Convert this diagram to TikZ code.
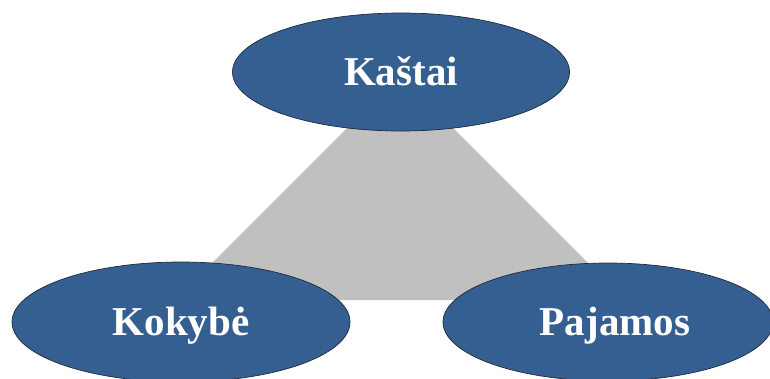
\documentclass[tikz,border=0pt]{standalone}
\usepackage{fontspec}
\setmainfont{Liberation Serif}
\usetikzlibrary{shapes.geometric}
\definecolor{ovalblue}{HTML}{365F91}
\definecolor{ovaledge}{HTML}{1F2A3A}
\definecolor{trigray}{HTML}{C0C0C0}
\tikzset{
  oval/.style={ellipse, draw=ovaledge, line width=0.7pt, fill=ovalblue, inner sep=0pt,
    text=white, font=\fontsize{41}{41}\selectfont\bfseries, text height=27pt, text depth=0pt},
}
\begin{document}
\begin{tikzpicture}[x=1pt,y=-1pt]
\useasboundingbox (0,0) rectangle (770,378);
\coordinate (apex) at (400,75);
\coordinate (bl) at (175,300);
\coordinate (br) at (625,300);
\fill[trigray] (apex) -- (bl) -- (br) -- cycle;
\node[oval, minimum width=337pt, minimum height=118pt] (kastai) at (401,72) {Kaštai};
\node[oval, minimum width=338pt, minimum height=120pt] (kokybe) at (181,322) {Kokybė};
\node[oval, minimum width=330pt, minimum height=118pt] (pajamos) at (608,322) {\hspace{14pt}Pajamos};
\end{tikzpicture}
\end{document}
